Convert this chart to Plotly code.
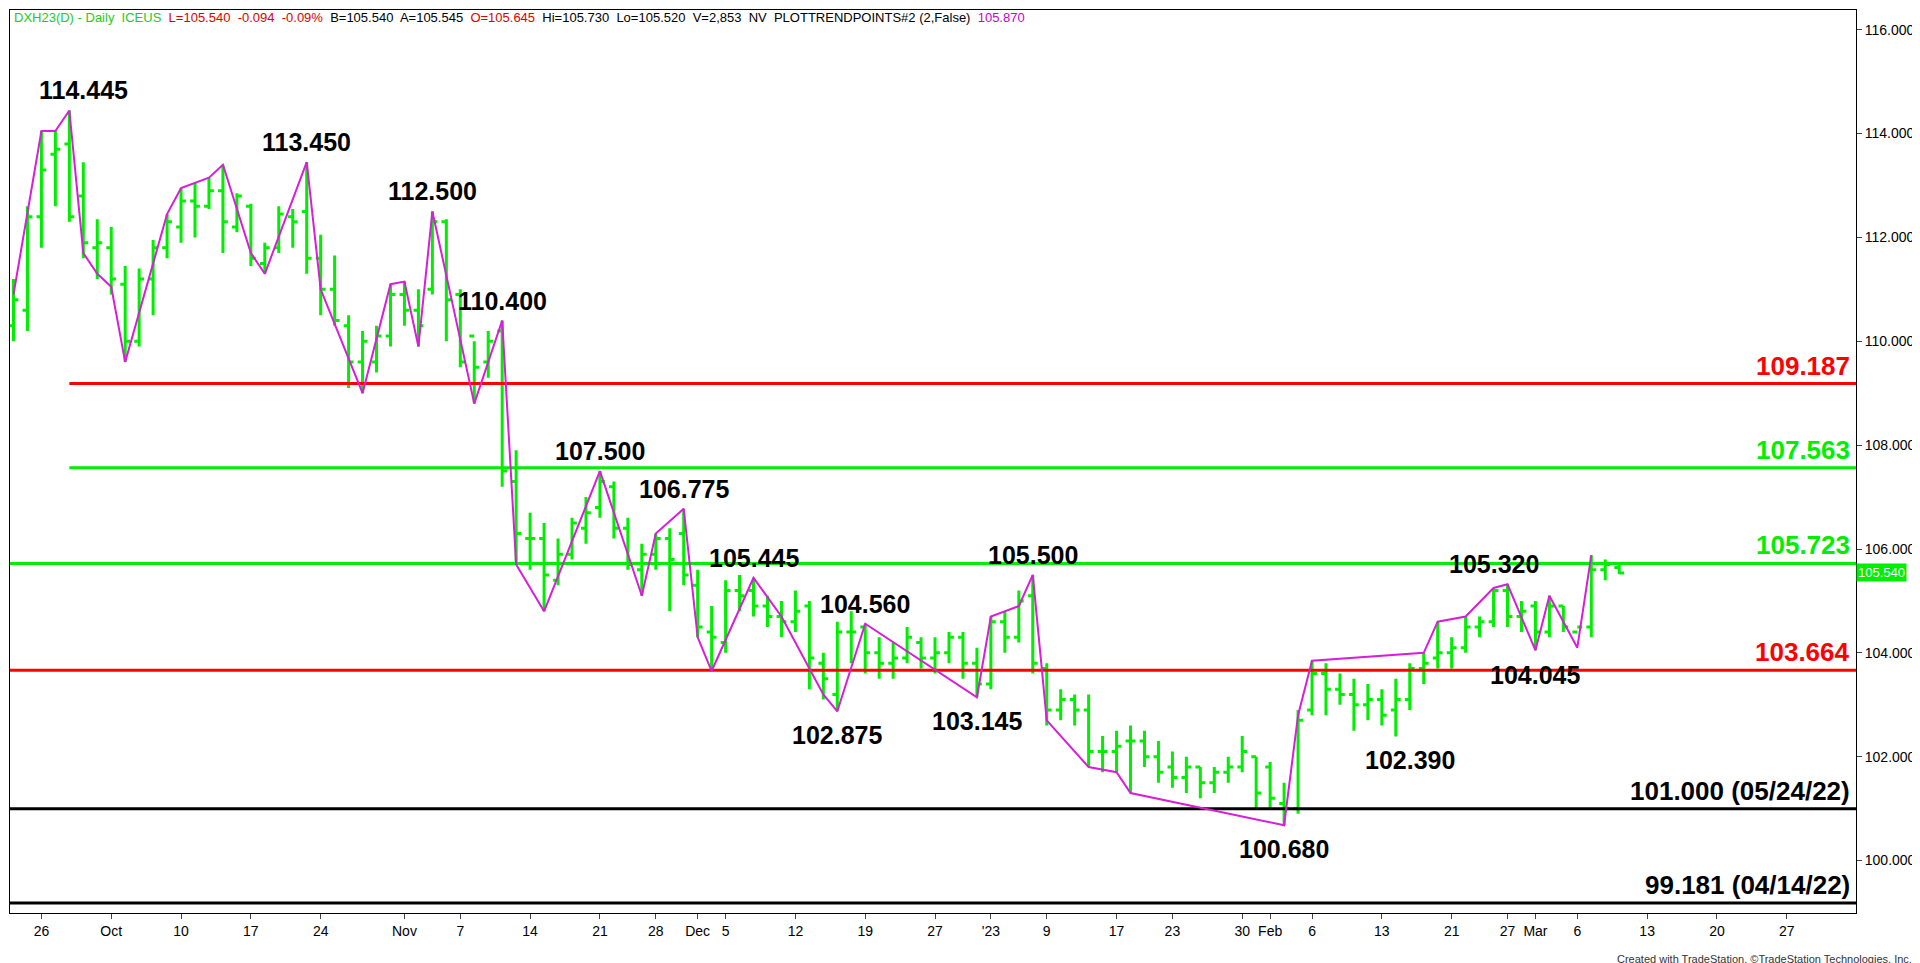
import pandas as pd
import plotly.graph_objects as go

holidays = ["2022-11-24", "2022-12-26", "2023-01-02", "2023-01-16", "2023-02-20"]
days = [d for d in pd.bdate_range("2022-09-22", "2023-03-09") if d.strftime("%Y-%m-%d") not in holidays]

# daily bars (Sep 22 2022 .. Mar 9 2023)
highs = [111.2, 112.6, 114.05, 114.05, 114.445, 113.45, 112.35,
         112.2, 111.45, 111.4, 111.95, 112.45, 112.95, 113.05, 113.15, 113.4, 112.85,
         112.65, 111.9, 112.6, 112.55, 113.45, 112.05, 111.65, 110.5, 110.2, 110.3, 111.1,
         111.15, 111.0, 112.5, 112.35, 111.0, 110.0, 110.2, 110.4, 107.9, 106.7, 106.5,
         106.2, 106.6, 107.0, 107.5, 107.3, 106.6, 106.1, 106.3, 106.4, 106.775,
         105.6, 104.9, 105.4, 105.5, 105.445, 105.1, 105.0, 105.2, 105.0, 104.0,
         104.6, 104.8, 104.56, 104.3, 104.2, 104.5, 104.3, 104.3, 104.4, 104.4, 104.1,
         104.7, 104.8, 105.2, 105.5, 103.8, 103.3, 103.2, 103.2, 102.4, 102.5, 102.6,
         102.5, 102.3, 102.1, 102.0, 101.8, 101.8, 102.0, 102.4, 102.0,
         101.9, 101.5, 102.9, 103.85, 103.8, 103.6, 103.5, 103.4, 103.3, 103.5, 103.8,
         104.0, 104.6, 104.3, 104.7, 104.7, 105.25, 105.32, 105.0,
         105.0, 105.1, 104.9, 104.1, 105.88, 105.8, 105.73]
lows = [110.0, 110.2, 111.8, 112.6, 112.3, 111.6, 111.2,
        110.9, 109.6, 109.9, 110.5, 111.6, 111.9, 112.0, 112.55, 111.7, 112.1,
        111.45, 111.3, 111.7, 111.8, 111.3, 110.5, 110.3, 109.1, 109.0, 109.4, 109.9,
        110.3, 109.9, 110.9, 110.0, 109.5, 108.8, 109.3, 107.2, 105.7, 105.6, 104.8,
        105.3, 105.8, 106.1, 106.6, 106.2, 105.6, 105.1, 105.6, 104.8, 105.3,
        104.3, 103.65, 104.0, 104.8, 104.7, 104.5, 104.3, 104.4, 103.3, 103.1,
        102.875, 103.8, 103.6, 103.5, 103.5, 103.8, 103.7, 103.6, 103.8, 103.5, 103.145,
        103.3, 104.0, 104.2, 103.6, 102.6, 102.7, 102.6, 101.8, 101.7, 101.7, 101.3,
        101.8, 101.5, 101.4, 101.3, 101.2, 101.3, 101.5, 101.7, 101.0,
        101.0, 100.68, 100.9, 102.8, 102.8, 103.0, 102.5, 102.7, 102.6, 102.39, 102.9,
        103.4, 103.7, 103.7, 104.0, 104.3, 104.5, 104.5, 104.4,
        104.05, 104.3, 104.4, 104.1, 104.3, 105.4, 105.52]
opens = [110.3, 110.6, 112.4, 113.6, 113.8, 112.8, 111.8,
         111.8, 111.1, 110.0, 111.2, 111.8, 112.2, 112.7, 112.6, 112.9, 112.2,
         112.6, 111.5, 111.8, 112.4, 112.5, 111.6, 111.0, 110.3, 109.6, 109.6, 110.1,
         110.9, 110.6, 111.0, 112.3, 110.9, 110.1, 109.6, 110.2, 107.3, 106.2, 106.2,
         105.4, 105.9, 106.4, 106.8, 107.2, 106.4, 105.6, 105.9, 106.2, 106.3,
         105.3, 104.4, 104.2, 105.2, 105.2, 104.9, 104.7, 104.6, 104.9, 103.8,
         103.2, 104.4, 104.5, 104.0, 103.8, 103.9, 104.2, 103.9, 104.0, 104.3, 103.8,
         103.4, 104.6, 104.3, 105.1, 103.7, 102.9, 103.1, 102.9, 102.1, 102.1, 102.3,
         102.3, 102.0, 101.8, 101.6, 101.8, 101.5, 101.7, 101.8, 102.0,
         101.8, 101.1, 101.0, 102.9, 103.6, 103.3, 103.2, 103.0, 103.1, 102.9, 103.1,
         103.7, 103.9, 104.0, 104.1, 104.5, 104.6, 105.2, 104.7,
         104.9, 104.4, 104.9, 104.4, 104.5, 105.6, 105.645]
closes = [110.8, 112.4, 113.3, 113.7, 112.4, 111.9, 111.9,
          111.2, 110.0, 111.2, 111.8, 112.3, 112.7, 112.6, 112.9, 112.3, 112.8,
          111.6, 111.8, 112.45, 112.3, 111.6, 111.0, 110.4, 109.6, 110.0, 110.1, 110.9,
          110.6, 110.3, 112.3, 110.8, 109.6, 109.5, 110.0, 107.5, 106.3, 106.2, 105.5,
          105.9, 106.5, 106.7, 107.3, 106.4, 105.7, 105.9, 106.2, 105.8, 105.5,
          104.5, 104.3, 105.2, 105.1, 104.9, 104.7, 104.6, 104.8, 103.9, 103.5,
          104.4, 104.4, 104.0, 103.8, 103.9, 104.3, 103.9, 104.0, 104.3, 103.8, 103.4,
          104.6, 104.3, 105.0, 103.8, 102.9, 103.1, 102.9, 102.1, 102.1, 102.2, 102.3,
          102.0, 101.7, 101.6, 101.8, 101.5, 101.7, 101.8, 102.1, 101.3,
          101.2, 101.0, 102.7, 103.6, 103.3, 103.2, 103.0, 103.1, 102.8, 103.1, 103.7,
          103.8, 104.0, 104.1, 104.5, 104.6, 105.2, 104.7, 104.8,
          104.4, 104.9, 104.5, 104.5, 105.6, 105.7, 105.54]

# swing line (PLOTTRENDPOINTS)
swing_dates = ["2022-09-22", "2022-09-26", "2022-09-27", "2022-09-28", "2022-09-29", "2022-09-30",
               "2022-10-03", "2022-10-04", "2022-10-07", "2022-10-10", "2022-10-12", "2022-10-13",
               "2022-10-17", "2022-10-18", "2022-10-21", "2022-10-24", "2022-10-27", "2022-10-31",
               "2022-11-01", "2022-11-02", "2022-11-03", "2022-11-08", "2022-11-10", "2022-11-11",
               "2022-11-15", "2022-11-21", "2022-11-25", "2022-11-28", "2022-11-30", "2022-12-01",
               "2022-12-02", "2022-12-07", "2022-12-09", "2022-12-14", "2022-12-15", "2022-12-19",
               "2022-12-30", "2023-01-03", "2023-01-05", "2023-01-06", "2023-01-09", "2023-01-12",
               "2023-01-17", "2023-01-18", "2023-02-02", "2023-02-03", "2023-02-06", "2023-02-16",
               "2023-02-17", "2023-02-22", "2023-02-24", "2023-02-27", "2023-03-01", "2023-03-02",
               "2023-03-06", "2023-03-07"]
swing_prices = [110.9, 114.05, 114.05, 114.445, 111.7, 111.3,
                111.05, 109.6, 112.45, 112.95, 113.15, 113.4,
                111.7, 111.3, 113.45, 111.0, 109.0, 111.1,
                111.15, 109.9, 112.5, 108.8, 110.4, 105.7,
                104.8, 107.5, 105.1, 106.3, 106.775, 104.3,
                103.65, 105.445, 104.7, 103.2, 102.875, 104.56,
                103.145, 104.7, 104.9, 105.5, 102.7, 101.8,
                101.7, 101.3, 100.68, 102.8, 103.85, 104.0,
                104.6, 104.7, 105.25, 105.32, 104.05, 105.1,
                104.1, 105.88]

# pivot labels: date, price, text, side
label_dates = ["2022-09-29", "2022-10-21", "2022-11-03", "2022-11-10", "2022-11-21", "2022-11-30",
               "2022-12-07", "2022-12-19", "2023-01-06", "2023-02-24", "2022-12-15", "2022-12-30",
               "2023-02-02", "2023-02-15", "2023-03-01"]
label_prices = [114.445, 113.45, 112.5, 110.4, 107.5, 106.775, 105.445, 104.56, 105.5, 105.32,
                102.875, 103.145, 100.68, 102.39, 104.045]
label_side = ["up"] * 10 + ["down"] * 5

level_values = [109.187, 107.563, 105.723, 103.664, 101.0, 99.181]
level_colors = ["#ff0000", "#00ee00", "#00ee00", "#ff0000", "#000000", "#000000"]
level_texts = ["109.187", "107.563", "105.723", "103.664", "101.000 (05/24/22)", "99.181 (04/14/22)"]
level_start = ["2022-09-28", "2022-09-28", "2022-09-21 18:00", "2022-09-21 18:00", "2022-09-21 18:00", "2022-09-21 18:00"]

tick_dates = ["2022-09-26", "2022-10-03", "2022-10-10", "2022-10-17", "2022-10-24", "2022-11-01",
              "2022-11-07", "2022-11-14", "2022-11-21", "2022-11-28", "2022-12-01", "2022-12-05",
              "2022-12-12", "2022-12-19", "2022-12-27", "2023-01-03", "2023-01-09", "2023-01-17",
              "2023-01-23", "2023-01-30", "2023-02-01", "2023-02-06", "2023-02-13", "2023-02-21",
              "2023-02-27", "2023-03-01", "2023-03-06", "2023-03-13", "2023-03-20", "2023-03-27"]
tick_text = ["26", "Oct", "10", "17", "24", "Nov", "7", "14", "21", "28", "Dec", "5", "12", "19", "27",
             "'23", "9", "17", "23", "30", "Feb", "6", "13", "21", "27", "Mar", "6", "13", "20", "27"]

x_end = "2023-03-31 23:00"

fig = go.Figure()
for v, c, s in zip(level_values, level_colors, level_start):
    fig.add_trace(go.Scatter(x=[s, x_end], y=[v, v], mode="lines",
                             line=dict(color=c, width=3), hoverinfo="skip", showlegend=False))

fig.add_trace(go.Ohlc(x=days, open=opens, high=highs, low=lows, close=closes,
                      increasing_line_color="#00ee00", decreasing_line_color="#00ee00",
                      line_width=3, tickwidth=0.35, showlegend=False))
fig.add_trace(go.Scatter(x=swing_dates, y=swing_prices, mode="lines",
                         line=dict(color="#d81ed8", width=2), showlegend=False))

for d, p, side in zip(label_dates, label_prices, label_side):
    fig.add_annotation(x=d, y=p, text=f"<b>{p:.3f}</b>", showarrow=False,
                       yanchor="bottom" if side == "up" else "top",
                       yshift=4 if side == "up" else -8,
                       font=dict(family="Liberation Sans", size=25, color="black"))

for v, c, t in zip(level_values, level_colors, level_texts):
    fig.add_annotation(x=1, xref="paper", y=v, text=f"<b>{t}</b>", showarrow=False,
                       xanchor="right", yanchor="bottom", xshift=-4, yshift=1,
                       font=dict(family="Liberation Sans", size=26, color=c))

fig.add_annotation(x=1, xref="paper", y=closes[-1], text="105.540", showarrow=False,
                   xanchor="left", bgcolor="#00ee00", font=dict(family="Liberation Sans", size=13, color="white"))

header = ("<span style='color:#22cc22'>DXH23(D) - Daily  ICEUS</span>  "
          "<span style='color:#dd0000'>L=105.540  -0.094  -0.09%</span>  "
          "B=105.540  A=105.545  <span style='color:#dd0000'>O=105.645</span>  "
          "Hi=105.730  Lo=105.520  V=2,853  NV  PLOTTRENDPOINTS#2 (2,False)  "
          "<span style='color:#cc00cc'>105.870</span>")
fig.add_annotation(x=0, y=1, xref="paper", yref="paper", text=header, showarrow=False,
                   xanchor="left", yanchor="top", xshift=2, yshift=2,
                   font=dict(family="Liberation Sans", size=13, color="black"))
fig.add_annotation(x=1, y=0, xref="paper", yref="paper", yshift=-38, xshift=58,
                   text="Created with TradeStation. ©TradeStation Technologies, Inc.",
                   showarrow=False, xanchor="right", yanchor="top",
                   font=dict(family="Liberation Sans", size=11, color="#333"))

fig.update_layout(
    width=1920, height=963, plot_bgcolor="white", paper_bgcolor="white",
    margin=dict(l=2, r=72, t=2, b=58),
    xaxis=dict(range=["2022-09-21 18:00", x_end], rangeslider_visible=False,
               rangebreaks=[dict(bounds=["sat", "mon"]), dict(values=holidays)],
               tickvals=tick_dates, ticktext=tick_text, ticks="outside", ticklen=5,
               tickfont=dict(family="Liberation Sans", size=14, color="black"),
               showgrid=False, showline=True, linecolor="black", mirror=True),
    yaxis=dict(side="right", range=[98.99, 116.38], tickvals=list(range(100, 117, 2)),
               tickformat=".3f", ticks="outside", ticklen=5,
               tickfont=dict(family="Liberation Sans", size=14, color="black"),
               showgrid=False, showline=True, linecolor="black", mirror=True),
)
fig.write_html("out.html")
